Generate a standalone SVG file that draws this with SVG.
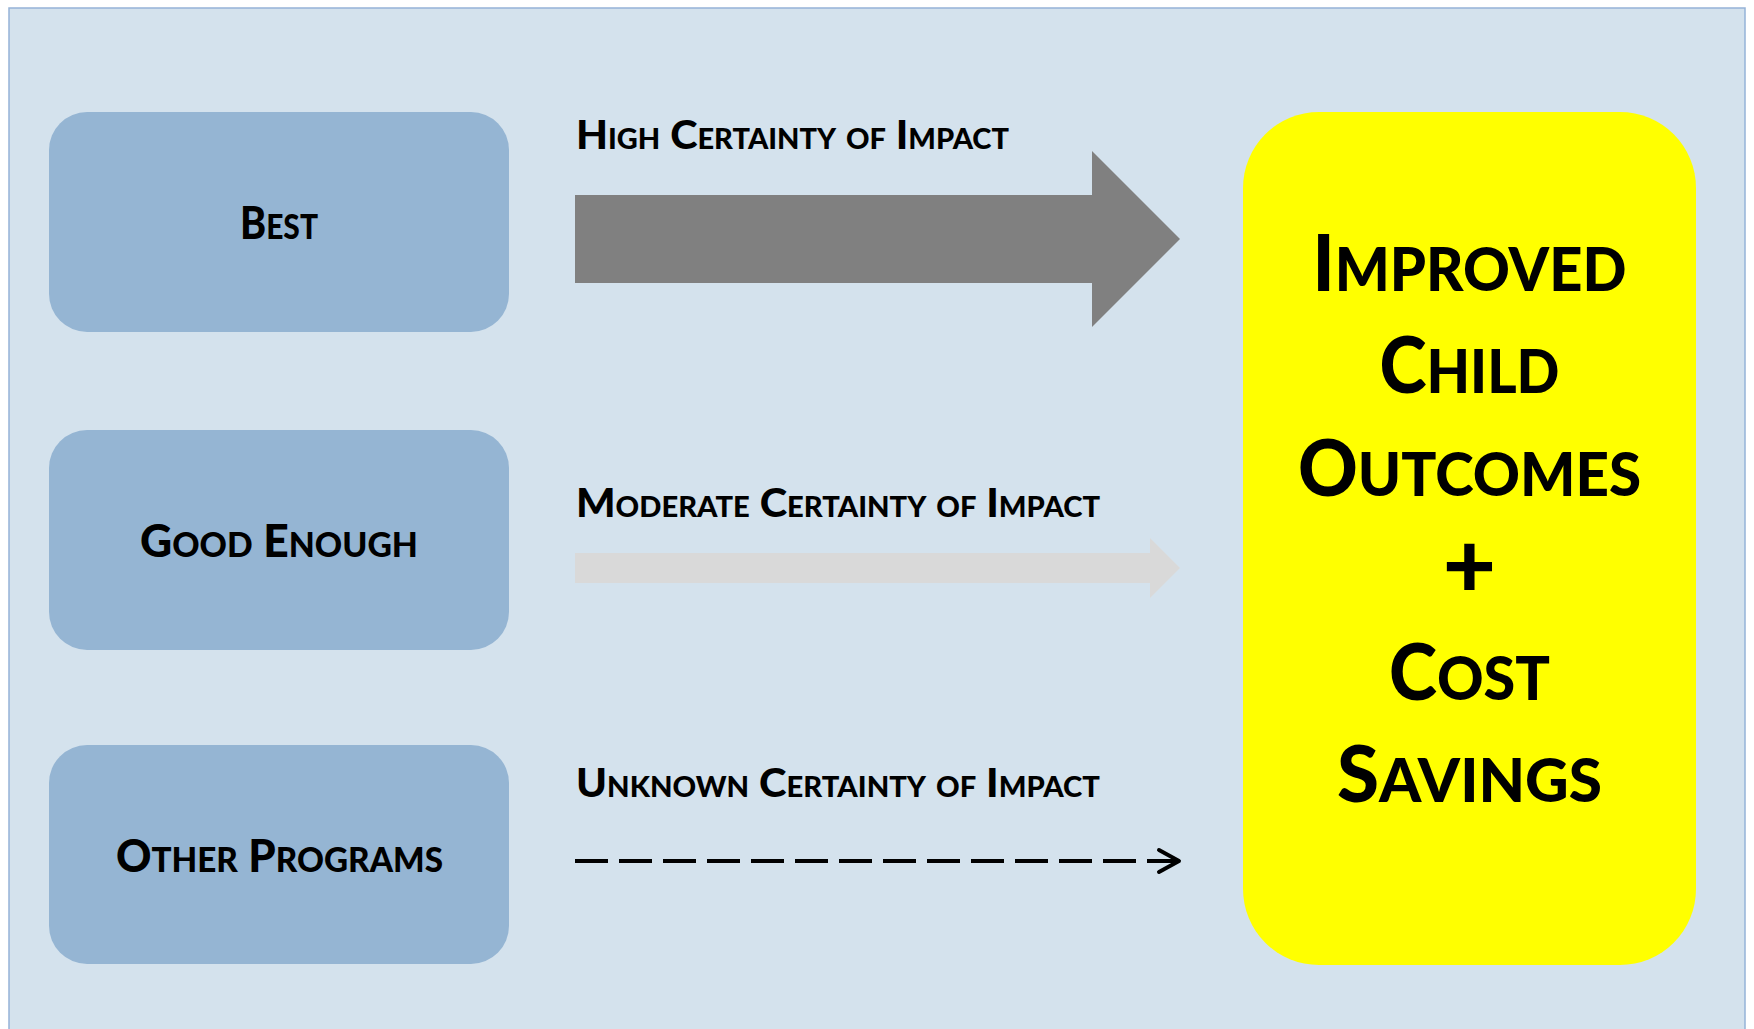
<svg xmlns="http://www.w3.org/2000/svg" width="1754" height="1029" viewBox="0 0 1754 1029">
  <style>
    .txt { font-family: Lato, "Liberation Sans", sans-serif; font-weight: 900; fill: #000; }
    .lbl { font-size: 40px; font-variant: small-caps; }
    .nodetxt { font-size: 45px; text-anchor: middle; }
    .big { font-size: 78px; text-anchor: middle; }
    .sc { font-size: 79%; text-transform: uppercase; }
    .nodetxt .sc { font-size: 76%; }
    .prog { fill: #95b5d3; }
  </style>
  <defs>
    <marker id="chev" viewBox="0 0 30 30" refX="24" refY="15" markerWidth="30" markerHeight="30" markerUnits="userSpaceOnUse" orient="auto">
      <path d="M4,4 L24,15 L4,26" fill="none" stroke="#000" stroke-width="4" stroke-linecap="round" stroke-linejoin="round"/>
    </marker>
  </defs>

  <rect id="frame" x="9" y="8" width="1736" height="1040" fill="#d4e2ed" stroke="#95b3d7" stroke-width="1.5"/>

  <g id="best">
    <rect class="prog" x="49" y="112" width="460" height="220" rx="38" ry="38"/>
    <text class="txt nodetxt" x="279" y="239" textLength="78" lengthAdjust="spacingAndGlyphs">B<tspan class="sc">est</tspan></text>
  </g>
  <g id="good-enough">
    <rect class="prog" x="49" y="430" width="460" height="220" rx="38" ry="38"/>
    <text class="txt nodetxt" x="279" y="557" textLength="278" lengthAdjust="spacingAndGlyphs">G<tspan class="sc">ood</tspan> E<tspan class="sc">nough</tspan></text>
  </g>
  <g id="other-programs">
    <rect class="prog" x="49" y="745" width="460" height="219" rx="38" ry="38"/>
    <text class="txt nodetxt" x="279.5" y="872" textLength="327" lengthAdjust="spacingAndGlyphs">O<tspan class="sc">ther</tspan> P<tspan class="sc">rograms</tspan></text>
  </g>

  <g id="outcome">
    <rect x="1243" y="112" width="453" height="853" rx="76" ry="76" fill="#ffff00"/>
    <text class="txt big" x="1469.5" y="291" textLength="314" lengthAdjust="spacingAndGlyphs">I<tspan class="sc">mproved</tspan></text>
    <text class="txt big" x="1469.5" y="393" textLength="180" lengthAdjust="spacingAndGlyphs">C<tspan class="sc">hild</tspan></text>
    <text class="txt big" x="1469.5" y="496" textLength="343" lengthAdjust="spacingAndGlyphs">O<tspan class="sc">utcomes</tspan></text>
    <text class="txt big" x="1469.5" y="598" style="font-size:92px">+</text>
    <text class="txt big" x="1469.5" y="700" textLength="161" lengthAdjust="spacingAndGlyphs">C<tspan class="sc">ost</tspan></text>
    <text class="txt big" x="1469.5" y="802" textLength="265" lengthAdjust="spacingAndGlyphs">S<tspan class="sc">avings</tspan></text>
  </g>

  <g id="connectors">
    <text class="txt lbl" x="576" y="149" textLength="433" lengthAdjust="spacingAndGlyphs">High Certainty of Impact</text>
    <polygon points="575,195 1092,195 1092,151 1180,239 1092,327 1092,283 575,283" fill="#808080"/>

    <text class="txt lbl" x="576" y="517" textLength="524" lengthAdjust="spacingAndGlyphs">Moderate Certainty of Impact</text>
    <polygon points="575,553 1150,553 1150,538 1180,568 1150,598 1150,583 575,583" fill="#d9d9d9"/>

    <text class="txt lbl" x="576" y="797" textLength="524" lengthAdjust="spacingAndGlyphs">Unknown Certainty of Impact</text>
    <line x1="575" y1="861" x2="1179" y2="861" stroke="#000" stroke-width="4" stroke-dasharray="33 11" marker-end="url(#chev)"/>
  </g>
</svg>
